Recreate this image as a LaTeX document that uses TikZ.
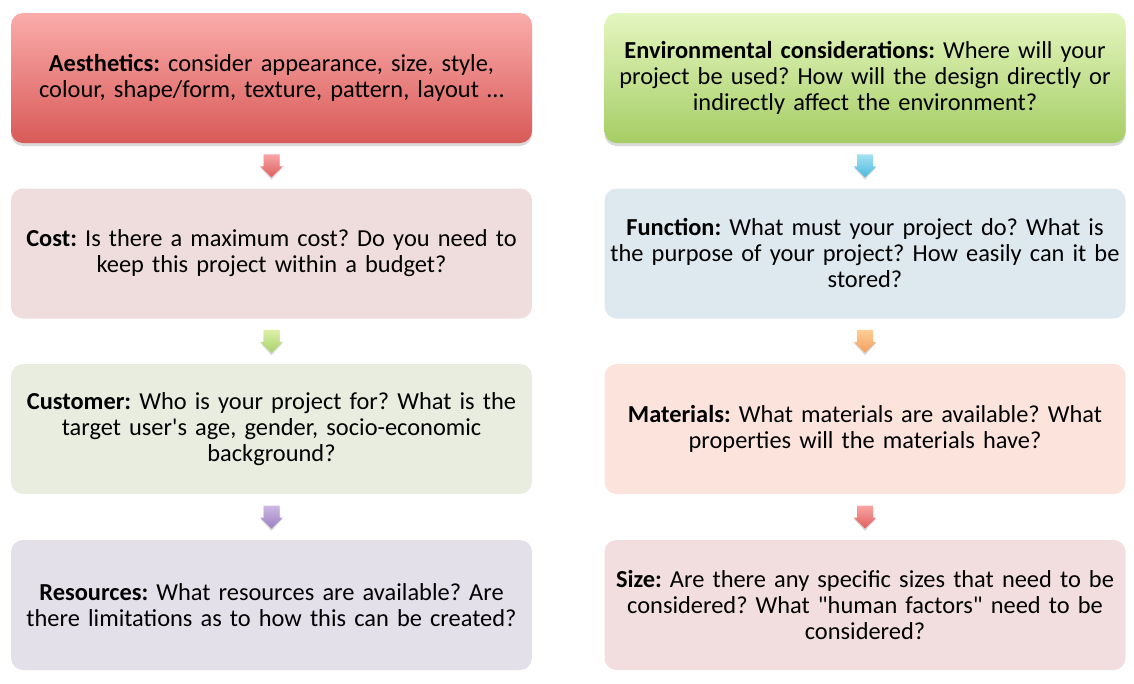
\documentclass[tikz,border=0pt]{standalone}
\usepackage{fontspec}
\setmainfont{Carlito}[Ligatures=TeXOff]
\frenchspacing
\usetikzlibrary{calc,shadows}
\definecolor{aesTop}{RGB}{250,172,170}
\definecolor{aesBot}{RGB}{216,90,88}
\definecolor{envTop}{RGB}{228,246,192}
\definecolor{envBot}{RGB}{166,205,100}
\definecolor{costFill}{RGB}{239,221,221}
\definecolor{custFill}{RGB}{232,237,224}
\definecolor{resFill}{RGB}{227,224,234}
\definecolor{funcFill}{RGB}{221,233,239}
\definecolor{matFill}{RGB}{252,228,221}
\definecolor{sizeFill}{RGB}{242,222,223}
\definecolor{redTop}{RGB}{248,165,165}
\definecolor{redBot}{RGB}{224,95,95}
\definecolor{grnTop}{RGB}{218,240,165}
\definecolor{grnBot}{RGB}{170,210,110}
\definecolor{purTop}{RGB}{205,185,228}
\definecolor{purBot}{RGB}{155,128,192}
\definecolor{cyaTop}{RGB}{165,225,242}
\definecolor{cyaBot}{RGB}{75,185,222}
\definecolor{ornTop}{RGB}{255,205,150}
\definecolor{ornBot}{RGB}{242,160,95}
\tikzset{
  box/.style={rounded corners=12pt, minimum width=521pt, minimum height=130pt,
    text width=515pt, align=center, inner sep=0pt,
    font=\fontsize{24.4}{26}\selectfont},
  softshadow/.style={drop shadow={shadow xshift=0pt, shadow yshift=-3pt, opacity=0.25, fill=black!60}},
  pics/downarrow/.style n args={2}{code={
    \fill[black, opacity=0.15] (-11,0.5+1.5) -- (-8,0.5+1.5) -- (-8,-11.5+1.5) -- (8,-11.5+1.5) -- (8,0.5+1.5) -- (11,0.5+1.5) -- (0,12.5+1.5) -- cycle;
    \shade[top color=#1, bottom color=#2] (-11.5,0.5) -- (-8,0.5) -- (-8,-11.5) -- (8,-11.5) -- (8,0.5) -- (11.5,0.5) -- (0,11.5) -- cycle;
  }}
}
\begin{document}
\begin{tikzpicture}[x=1pt,y=-1pt]
\useasboundingbox (0,0) rectangle (1134,683);
% left column
\node[box, softshadow, top color=aesTop, bottom color=aesBot] (aes) at (271.5,78) {\textbf{Aesthetics:} consider appearance, size, style,\\ colour, shape/form, texture, pattern, layout \dots};
\node[box, fill=costFill] (cost) at (271.5,253.5) {\textbf{Cost:} Is there a maximum cost? Do you need to\\ keep this project within a budget?};
\node[box, fill=custFill] (cust) at (271.5,429) {\textbf{Customer:} Who is your project for? What is the\\ target user's age, gender, socio-economic\\ background?};
\node[box, fill=resFill] (res) at (271.5,605) {\textbf{Resources:} What resources are available? Are\\ there limitations as to how this can be created?};
% right column
\node[box, softshadow, top color=envTop, bottom color=envBot] (env) at (865,78) {\textbf{Environmental considerations:} Where will your\\ project be used? How will the design directly or\\ indirectly affect the environment?};
\node[box, fill=funcFill] (func) at (865,253.5) {\textbf{Function:} What must your project do? What is\\ the purpose of your project? How easily can it be\\ stored?};
\node[box, fill=matFill] (mat) at (865,429) {\textbf{Materials:} What materials are available? What\\ properties will the materials have?};
\node[box, fill=sizeFill] (size) at (865,605) {\textbf{Size:} Are there any specific sizes that need to be\\ considered? What "human factors" need to be\\ considered?};
% arrows
\pic at ($(aes.south)!0.5!(cost.north)$) {downarrow={redTop}{redBot}};
\pic at ($(cost.south)!0.5!(cust.north)$) {downarrow={grnTop}{grnBot}};
\pic at ($(cust.south)!0.5!(res.north)$) {downarrow={purTop}{purBot}};
\pic at ($(env.south)!0.5!(func.north)$) {downarrow={cyaTop}{cyaBot}};
\pic at ($(func.south)!0.5!(mat.north)$) {downarrow={ornTop}{ornBot}};
\pic at ($(mat.south)!0.5!(size.north)$) {downarrow={redTop}{redBot}};
\end{tikzpicture}
\end{document}
